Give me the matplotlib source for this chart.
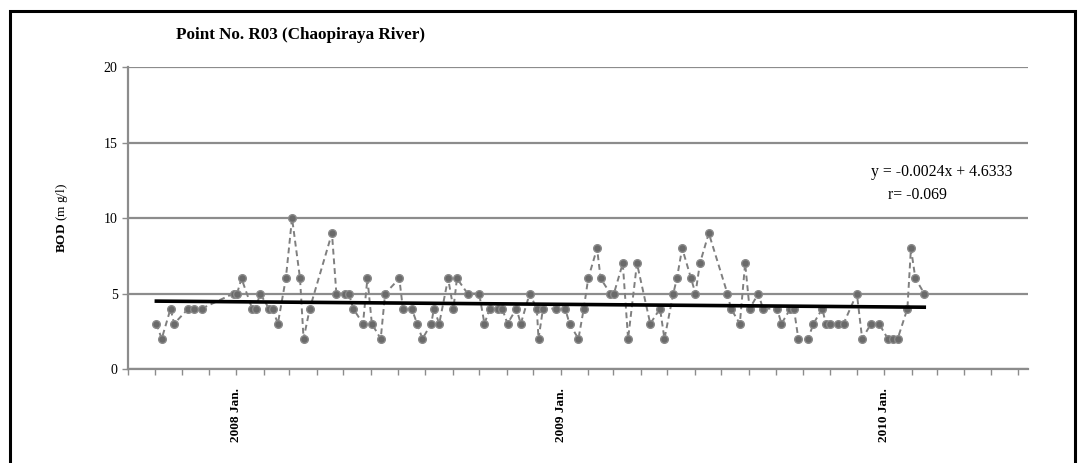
import numpy as np
import pandas as pd
import matplotlib
matplotlib.use("Agg")
import matplotlib.pyplot as plt
import matplotlib.dates as mdates
from matplotlib.patches import Rectangle

plt.rcParams['font.family'] = ['Liberation Serif', 'DejaVu Serif']
plt.rcParams['mathtext.fontset'] = 'custom'
plt.rcParams['mathtext.rm'] = 'Liberation Serif'
plt.rcParams['mathtext.bf'] = 'Liberation Serif:bold'

# sampling dates and BOD values (mg/l)
dates = [
    "2007-10-03", "2007-10-09", "2007-10-19", "2007-10-23", "2007-11-08", "2007-11-14",
    "2007-11-23", "2007-12-29", "2008-01-02", "2008-01-07", "2008-01-19", "2008-01-23",
    "2008-01-28", "2008-02-07", "2008-02-11", "2008-02-17", "2008-02-26", "2008-03-04",
    "2008-03-13", "2008-03-17", "2008-03-24", "2008-04-18", "2008-04-23", "2008-05-03",
    "2008-05-07", "2008-05-12", "2008-05-23", "2008-05-28", "2008-06-02", "2008-06-12",
    "2008-06-17", "2008-07-03", "2008-07-07", "2008-07-17", "2008-07-23", "2008-07-29",
    "2008-08-08", "2008-08-11", "2008-08-17", "2008-08-27", "2008-09-02", "2008-09-06",
    "2008-09-18", "2008-10-01", "2008-10-07", "2008-10-13", "2008-10-22", "2008-10-27",
    "2008-11-02", "2008-11-12", "2008-11-17", "2008-11-27", "2008-12-05", "2008-12-07",
    "2008-12-12", "2008-12-27", "2009-01-06", "2009-01-11", "2009-01-21", "2009-01-27",
    "2009-02-01", "2009-02-11", "2009-02-15", "2009-02-26", "2009-03-02", "2009-03-12",
    "2009-03-18", "2009-03-28", "2009-04-12", "2009-04-23", "2009-04-28", "2009-05-08",
    "2009-05-12", "2009-05-18", "2009-05-28", "2009-06-02", "2009-06-07", "2009-06-17",
    "2009-07-08", "2009-07-12", "2009-07-22", "2009-07-28", "2009-08-02", "2009-08-12",
    "2009-08-17", "2009-09-02", "2009-09-07", "2009-09-17", "2009-09-21", "2009-09-26",
    "2009-10-07", "2009-10-13", "2009-10-23", "2009-10-27", "2009-11-01", "2009-11-10",
    "2009-11-16", "2009-12-01", "2009-12-07", "2009-12-17", "2009-12-26", "2010-01-05",
    "2010-01-11", "2010-01-16", "2010-01-27", "2010-01-31", "2010-02-05", "2010-02-15",
]
bod = [
    3, 2, 4, 3, 4, 4, 4, 5, 5, 6, 4, 4, 5, 4, 4, 3, 6, 10, 6, 2, 4, 9, 5, 5, 5, 4, 3, 6,
    3, 2, 5, 6, 4, 4, 3, 2, 3, 4, 3, 6, 4, 6, 5, 5, 3, 4, 4, 4, 3, 4, 3, 5, 4, 2, 4, 4,
    4, 3, 2, 4, 6, 8, 6, 5, 5, 7, 2, 7, 3, 4, 2, 5, 6, 8, 6, 5, 7, 9, 5, 4, 3, 7, 4, 5,
    4, 4, 3, 4, 4, 2, 2, 3, 4, 3, 3, 3, 3, 5, 2, 3, 3, 2, 2, 2, 4, 8, 6, 5,
]
title = "Point No. R03 (Chaopiraya River)"
trend_text = "y = -0.0024x + 4.6333"
r_text = "r= -0.069"

x = pd.to_datetime(dates)
y = np.array(bod, dtype=float)

fig = plt.figure(figsize=(10.83, 4.63), dpi=100)
ax = fig.add_axes([0.1182, 0.203, 0.831, 0.652])

grid_col = '#8c8c8c'
ax.plot(x, y, linestyle='--', color='#7f7f7f', lw=1.4, dashes=(3, 2),
        marker='o', markersize=5.5, markerfacecolor='#6a6a6a',
        markeredgecolor='#8a8a8a', markeredgewidth=1, zorder=3)

# linear trend through the samples
xn = np.arange(len(y))
k, b = np.polyfit(xn, y, 1)
ax.plot([x[0], x[-1]], [b, b + k * xn[-1]], color='black', lw=2.6, zorder=4)

ax.set_ylim(0, 20)
ax.set_yticks([0, 5, 10, 15, 20])
ax.set_xlim(pd.Timestamp("2007-09-01"), pd.Timestamp("2010-06-12"))
ax.xaxis.set_major_locator(mdates.MonthLocator())
ax.xaxis.set_major_formatter(plt.FuncFormatter(
    lambda v, p: mdates.num2date(v).strftime("%Y Jan.") if mdates.num2date(v).month == 1 else ""))

ax.grid(axis='y', color=grid_col, lw=1.6)
ax.grid(axis='x', visible=False)
ax.set_axisbelow(True)
for s in ['top', 'right']:
    ax.spines[s].set_visible(False)
for s in ['left', 'bottom']:
    ax.spines[s].set_color(grid_col)
    ax.spines[s].set_linewidth(1.6)
ax.tick_params(axis='y', colors=grid_col, length=4, width=1, labelcolor='black', labelsize=10)
ax.tick_params(axis='x', colors=grid_col, length=4, width=1, labelcolor='black', labelsize=9.5,
               rotation=90, pad=10)
for lab in ax.get_xticklabels():
    lab.set_fontweight('bold')

ax.set_ylabel(r"$\mathbf{BOD}$ (m g/l)", fontsize=9.5, labelpad=24)

fig.text(0.1625, 0.924, title, fontsize=12.3, fontweight='bold', va='center', ha='left')
ax.text(0.826, 0.654, trend_text, transform=ax.transAxes, fontsize=11.3, ha='left', va='center')
ax.text(0.844, 0.575, r_text, transform=ax.transAxes, fontsize=11.3, ha='left', va='center')

fig.patches.append(Rectangle((10 / 1083, -0.02), 1065 / 1083, 1 - 11 / 463 + 0.02,
                             transform=fig.transFigure, fill=False, edgecolor='black',
                             lw=2.2, zorder=10))

fig.savefig("out.png", dpi=100)
